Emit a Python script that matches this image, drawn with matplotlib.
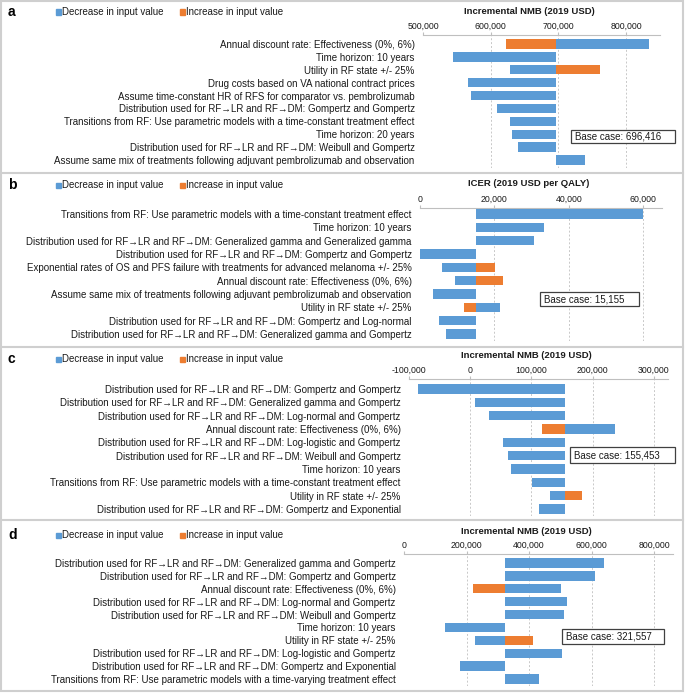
import matplotlib
matplotlib.use("Agg")
import matplotlib.pyplot as plt
from matplotlib import font_manager
from matplotlib.patches import Rectangle
from matplotlib.lines import Line2D

avail = {f.name for f in font_manager.fontManager.ttflist}
FONT = ['Liberation Sans Narrow', 'Liberation Sans', 'DejaVu Sans'] if 'Liberation Sans Narrow' in avail else ['Liberation Sans', 'DejaVu Sans']
NARROW = 'Liberation Sans Narrow' in avail
plt.rcParams['font.family'] = FONT

BLUE = '#5B9BD5'
ORANGE = '#ED7D31'

# ---------------- data ----------------
labels_a = [
    "Annual discount rate: Effectiveness (0%, 6%)",
    "Time horizon: 10 years",
    "Utility in RF state +/- 25%",
    "Drug costs based on VA national contract prices",
    "Assume time-constant HR of RFS for comparator vs. pembrolizumab",
    "Distribution used for RF\u2192LR and RF\u2192DM: Gompertz and Gompertz",
    "Transitions from RF: Use parametric models with a time-constant treatment effect",
    "Time horizon: 20 years",
    "Distribution used for RF\u2192LR and RF\u2192DM: Weibull and Gompertz",
    "Assume same mix of treatments following adjuvant pembrolizumab and observation",
]
dec_a = [834000, 545000, 629000, 567000, 571000, 609000, 629000, 632000, 640000, 739000]
inc_a = [622000, None, 761000, None, None, None, None, None, None, None]
base_a = 696416
ticks_a = [500000, 600000, 700000, 800000]

labels_b = [
    "Transitions from RF: Use parametric models with a time-constant treatment effect",
    "Time horizon: 10 years",
    "Distribution used for RF\u2192LR and RF\u2192DM: Generalized gamma and Generalized gamma",
    "Distribution used for RF\u2192LR and RF\u2192DM: Gompertz and Gompertz",
    "Exponential rates of OS and PFS failure with treatments for advanced melanoma +/- 25%",
    "Annual discount rate: Effectiveness (0%, 6%)",
    "Assume same mix of treatments following adjuvant pembrolizumab and observation",
    "Utility in RF state +/- 25%",
    "Distribution used for RF\u2192LR and RF\u2192DM: Gompertz and Log-normal",
    "Distribution used for RF\u2192LR and RF\u2192DM: Generalized gamma and Gompertz",
]
dec_b = [59800, 33300, 30500, 0, 6000, 9500, 3400, 21600, 5100, 6900]
inc_b = [None, None, None, None, 20200, 22200, None, 11700, None, None]
base_b = 15155
ticks_b = [0, 20000, 40000, 60000]

labels_c = [
    "Distribution used for RF\u2192LR and RF\u2192DM: Gompertz and Gompertz",
    "Distribution used for RF\u2192LR and RF\u2192DM: Generalized gamma and Gompertz",
    "Distribution used for RF\u2192LR and RF\u2192DM: Log-normal and Gompertz",
    "Annual discount rate: Effectiveness (0%, 6%)",
    "Distribution used for RF\u2192LR and RF\u2192DM: Log-logistic and Gompertz",
    "Distribution used for RF\u2192LR and RF\u2192DM: Weibull and Gompertz",
    "Time horizon: 10 years",
    "Transitions from RF: Use parametric models with a time-constant treatment effect",
    "Utility in RF state +/- 25%",
    "Distribution used for RF\u2192LR and RF\u2192DM: Gompertz and Exponential",
]
dec_c = [-85700, 7000, 30000, 237000, 53000, 61000, 66000, 101000, 131000, 113000]
inc_c = [None, None, None, 118000, None, None, None, None, 182000, None]
base_c = 155453
ticks_c = [-100000, 0, 100000, 200000, 300000]

labels_d = [
    "Distribution used for RF\u2192LR and RF\u2192DM: Generalized gamma and Gompertz",
    "Distribution used for RF\u2192LR and RF\u2192DM: Gompertz and Gompertz",
    "Annual discount rate: Effectiveness (0%, 6%)",
    "Distribution used for RF\u2192LR and RF\u2192DM: Log-normal and Gompertz",
    "Distribution used for RF\u2192LR and RF\u2192DM: Weibull and Gompertz",
    "Time horizon: 10 years",
    "Utility in RF state +/- 25%",
    "Distribution used for RF\u2192LR and RF\u2192DM: Log-logistic and Gompertz",
    "Distribution used for RF\u2192LR and RF\u2192DM: Gompertz and Exponential",
    "Transitions from RF: Use parametric models with a time-varying treatment effect",
]
dec_d = [641000, 610000, 503000, 522000, 510000, 131000, 226000, 504000, 179000, 431000]
inc_d = [None, None, 222000, None, None, None, 412000, None, None, None]
base_d = 321557
ticks_d = [0, 200000, 400000, 600000, 800000]

# ---------------- layout ----------------
W, H = 685, 693
fig = plt.figure(figsize=(W / 100, H / 100), dpi=100)

def fx(px):
    return px / W

def fy(py):
    return 1 - py / H

LAB_FS = 8.2 if NARROW else 7.0
TICK_FS = 7.4 if NARROW else 6.3
TITLE_FS = 7.9 if NARROW else 6.8
TXT = '#1a1a1a'

panels = [
    dict(letter='a', labels=labels_a, dec=dec_a, inc=inc_a, base=base_a, ticks=ticks_a,
         xlim=(500000, 850000), title='Incremental NMB (2019 USD)',
         xl=423, xr=660, top=35, r0=44, r1=160, bot=168, ly=12, title_y=11,
         box=(571, 130, 675, 143)),
    dict(letter='b', labels=labels_b, dec=dec_b, inc=inc_b, base=base_b, ticks=ticks_b,
         xlim=(0, 65000), title='ICER (2019 USD per QALY)',
         xl=420, xr=662, top=208, r0=214, r1=334, bot=341, ly=185, title_y=184,
         box=(540, 292, 639, 306)),
    dict(letter='c', labels=labels_c, dec=dec_c, inc=inc_c, base=base_c, ticks=ticks_c,
         xlim=(-100000, 323000), title='Incremental NMB (2019 USD)',
         xl=409, xr=668, top=379, r0=389, r1=509, bot=516, ly=359, title_y=356,
         box=(570, 447, 675, 463)),
    dict(letter='d', labels=labels_d, dec=dec_d, inc=inc_d, base=base_d, ticks=ticks_d,
         xlim=(0, 860000), title='Incremental NMB (2019 USD)',
         xl=404, xr=673, top=554, r0=563, r1=679, bot=686, ly=535, title_y=531,
         box=(562, 629, 664, 644)),
]

for p in panels:
    n = len(p['labels'])
    step = (p['r1'] - p['r0']) / (n - 1)
    ax = fig.add_axes([fx(p['xl']), fy(p['bot']), fx(p['xr'] - p['xl']), (p['bot'] - p['top']) / H])
    ymin = -(p['r0'] - p['top']) / step
    ymax = (n - 1) + (p['bot'] - p['r1']) / step
    ax.set_ylim(ymax, ymin)
    ax.set_xlim(*p['xlim'])
    base = p['base']
    ys = list(range(n))
    dec_w = [d - base for d in p['dec']]
    ax.barh(ys, dec_w, left=base, height=0.72, color=BLUE, zorder=3)
    inc_y = [y for y, v in zip(ys, p['inc']) if v is not None]
    inc_w = [v - base for v in p['inc'] if v is not None]
    ax.barh(inc_y, inc_w, left=base, height=0.72, color=ORANGE, zorder=3)
    for t in p['ticks']:
        if p['xlim'][0] < t:
            ax.axvline(t, color='#c8c8c8', lw=0.7, ls=(0, (2, 2)), zorder=1)
    for s in ['left', 'right', 'bottom']:
        ax.spines[s].set_visible(False)
    ax.spines['top'].set_color('#bfbfbf')
    ax.spines['top'].set_linewidth(0.8)
    ax.xaxis.tick_top()
    ax.set_xticks(p['ticks'])
    ax.set_xticklabels([f"{t:,}" for t in p['ticks']], fontsize=TICK_FS, color=TXT)
    ax.tick_params(axis='x', length=2, color='#bfbfbf', pad=1)
    ax.set_yticks(ys)
    ax.set_yticklabels(p['labels'], fontsize=LAB_FS, color=TXT)
    ax.tick_params(axis='y', length=0, pad=6)
    ax.patch.set_alpha(0)

    cx = fx((p['xl'] + p['xr']) / 2 - 12)
    fig.text(cx, fy(p['title_y']), p['title'], ha='center', va='center',
             fontsize=TITLE_FS, fontweight='bold', color=TXT)
    fig.text(fx(8), fy(p['ly']), p['letter'], ha='left', va='center', fontsize=10, fontweight='bold',
             family=['Liberation Sans', 'DejaVu Sans'], color='black')
    fig.patches.append(Rectangle((fx(56), fy(p['ly'] + 2.5)), fx(5), 5 / H, transform=fig.transFigure,
                                 color=BLUE))
    fig.text(fx(62), fy(p['ly']), 'Decrease in input value', ha='left', va='center', fontsize=LAB_FS, color=TXT)
    fig.patches.append(Rectangle((fx(180), fy(p['ly'] + 2.5)), fx(5), 5 / H, transform=fig.transFigure,
                                 color=ORANGE))
    fig.text(fx(186), fy(p['ly']), 'Increase in input value', ha='left', va='center', fontsize=LAB_FS, color=TXT)
    l, t, r, b = p['box']
    fig.patches.append(Rectangle((fx(l), fy(b)), fx(r - l), (b - t) / H, transform=fig.transFigure,
                                 facecolor='white', edgecolor='#404040', lw=0.9, zorder=5))
    fig.text(fx(l + 4), fy((t + b) / 2), f"Base case: {base:,}", ha='left', va='center',
             fontsize=LAB_FS, zorder=6, color=TXT)

BC = '#cfcfcf'
fig.patches.append(Rectangle((fx(1), fy(691)), fx(682), 690 / H, transform=fig.transFigure,
                             fill=False, edgecolor=BC, lw=1.5))
for yb in [172.5, 347, 520]:
    fig.lines.append(Line2D([fx(1), fx(683)], [fy(yb), fy(yb)], transform=fig.transFigure, color=BC, lw=1.5))

fig.savefig('out.png', dpi=100)
